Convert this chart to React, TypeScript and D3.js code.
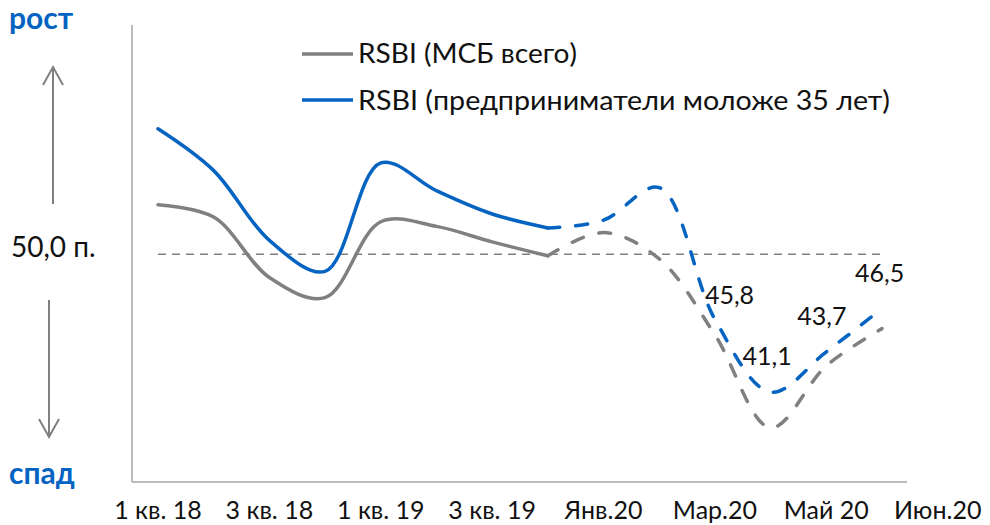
import React from "react";
import * as d3 from "d3";

// ---- data ----
const categories = [
  "1 кв. 18", "2 кв. 18", "3 кв. 18", "4 кв. 18",
  "1 кв. 19", "2 кв. 19", "3 кв. 19", "4 кв. 19",
  "Янв.20", "Фев.20", "Мар.20", "Апр.20", "Май 20", "Июн.20",
];
const tickLabels = ["1 кв. 18", "3 кв. 18", "1 кв. 19", "3 кв. 19", "Янв.20", "Мар.20", "Май 20", "Июн.20"];
const msbTotal = [53.2, 52.4, 48.5, 47.2, 52.1, 51.8, 50.8, 49.9, 51.4, 49.7, 44.8, 38.8, 42.8, 45.2];
const youngEntrepreneurs = [58.1, 55.4, 50.9, 48.9, 55.9, 54.1, 52.6, 51.7, 52.2, 54.3, 45.8, 41.1, 43.7, 46.5];
const solidLastIndex = 7; // quarterly data solid, monthly data dashed
const labelledIndices = [10, 11, 12, 13];
const threshold = 50;
const seriesNames = ["RSBI (МСБ всего)", "RSBI (предприниматели моложе 35 лет)"];

const BLUE = "#0563C1";
const GRAY = "#808080";
const FONT = "Lato, 'Open Sans', sans-serif";

export default function App() {
  const x = d3.scaleLinear().domain([0, categories.length - 1]).range([158, 882]);
  const y = d3.scaleLinear().domain([35.3, 64.8]).range([482, 25]);

  const line = d3
    .line<[number, number]>()
    .x((d) => x(d[0]))
    .y((d) => y(d[1]))
    .curve(d3.curveCatmullRom.alpha(0.5));

  const toPts = (arr: number[]) => arr.map((v, i) => [i, v] as [number, number]);
  const solid = (arr: number[]) => line(toPts(arr).slice(0, solidLastIndex + 1)) || "";
  const dashed = (arr: number[]) => line(toPts(arr).slice(solidLastIndex)) || "";

  const fmt = (v: number) => v.toFixed(1).replace(".", ",");
  const labelOffsets: Record<number, [number, number]> = {
    10: [-10, -22],
    11: [-28, -33],
    12: [-29, -33],
    13: [-27, -33],
  };

  return (
    <svg
      width={990}
      height={525}
      style={{ position: "absolute", left: 0, top: 0, background: "#fff" }}
      fontFamily={FONT}
    >
      <rect width={990} height={525} fill="#fff" />
      {/* axes */}
      <line x1={132} x2={132} y1={25} y2={y(35.3)} stroke="#a6a6a6" strokeWidth={1.5} />
      <line x1={132} x2={907} y1={y(35.3)} y2={y(35.3)} stroke="#a6a6a6" strokeWidth={1.5} />
      {/* threshold */}
      <line
        x1={x(0)}
        x2={x(categories.length - 1)}
        y1={y(threshold)}
        y2={y(threshold)}
        stroke={GRAY}
        strokeWidth={1.6}
        strokeDasharray="8 6"
      />
      {/* series */}
      <path d={solid(msbTotal)} fill="none" stroke={GRAY} strokeWidth={3.5} strokeLinecap="round" />
      <path d={solid(youngEntrepreneurs)} fill="none" stroke={BLUE} strokeWidth={3.5} strokeLinecap="round" />
      <path d={dashed(msbTotal)} fill="none" stroke={GRAY} strokeWidth={3.5} strokeLinecap="round" strokeDasharray="12 16" />
      <path d={dashed(youngEntrepreneurs)} fill="none" stroke={BLUE} strokeWidth={3.5} strokeLinecap="round" strokeDasharray="12 16" />
      {/* data labels */}
      {labelledIndices.map((i) => (
        <text
          key={i}
          x={x(i) + labelOffsets[i][0]}
          y={y(youngEntrepreneurs[i]) + labelOffsets[i][1]}
          fontSize={25}
          fill="#111"
          dominantBaseline="middle"
        >
          {fmt(youngEntrepreneurs[i])}
        </text>
      ))}
      {/* x tick labels */}
      {tickLabels.map((t, k) => (
        <text key={t} x={x(k * 2)} y={519} fontSize={25} textAnchor="middle" fill="#111">
          {t}
        </text>
      ))}
      {/* legend */}
      <line x1={302} x2={353} y1={54} y2={54} stroke={GRAY} strokeWidth={3.5} />
      <text x={358} y={63} fontSize={26} fill="#111" textLength={219} lengthAdjust="spacingAndGlyphs">
        {seriesNames[0]}
      </text>
      <line x1={302} x2={353} y1={100} y2={100} stroke={BLUE} strokeWidth={3.5} />
      <text x={358} y={110} fontSize={26} fill="#111" textLength={532} lengthAdjust="spacingAndGlyphs">
        {seriesNames[1]}
      </text>
      {/* left annotations */}
      <text x={9} y={29} fontSize={30} fontWeight="bold" fill={BLUE}>рост</text>
      <text x={9} y={484} fontSize={30} fontWeight="bold" fill={BLUE}>спад</text>
      <text x={11} y={257} fontSize={28} fill="#111">50,0 п.</text>
      {/* arrows */}
      <g stroke={GRAY} strokeWidth={2} fill="none">
        <line x1={53} x2={53} y1={204} y2={67} />
        <polyline points="43,85 53,67 63,85" />
        <line x1={49} x2={49} y1={300} y2={437} />
        <polyline points="39,419 49,437 59,419" />
      </g>
    </svg>
  );
}
